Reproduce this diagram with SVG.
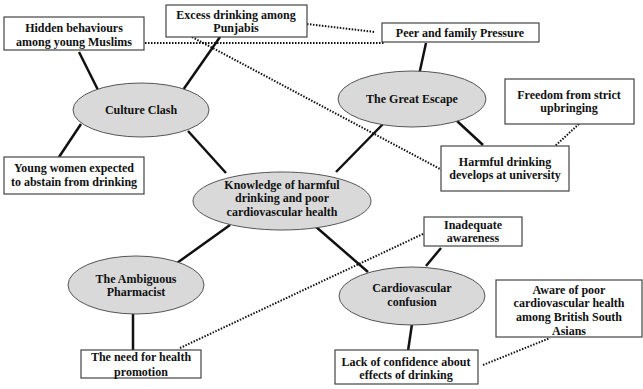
<svg xmlns="http://www.w3.org/2000/svg" width="643" height="389" viewBox="0 0 643 389">
<style>
text{font-family:"Liberation Serif","Times New Roman",serif;font-weight:bold;font-size:12px;fill:#111;text-anchor:middle;dominant-baseline:central}
.box{fill:#fff;stroke:#444;stroke-width:1.2}
.ell{fill:#d9d9d9;stroke:#555;stroke-width:1}
.solid{stroke:#111;stroke-width:2.5;fill:none}
.dot{stroke:#111;stroke-width:2;stroke-dasharray:1.5 1.5;fill:none}
</style>
<rect width="643" height="389" fill="#fff"/>
<g id="connectors">
<line class="solid" x1="79" y1="52" x2="98" y2="90"/>
<line class="solid" x1="220" y1="37" x2="183" y2="90"/>
<line class="solid" x1="81" y1="124" x2="59" y2="157"/>
<line class="solid" x1="188" y1="131" x2="226" y2="173"/>
<line class="solid" x1="426" y1="43" x2="419" y2="75"/>
<line class="solid" x1="457" y1="121" x2="483" y2="145"/>
<line class="solid" x1="383" y1="124" x2="336" y2="172"/>
<line class="solid" x1="230" y1="225" x2="177" y2="263"/>
<line class="solid" x1="133" y1="314" x2="133" y2="350"/>
<line class="solid" x1="315" y1="226" x2="368" y2="272"/>
<line class="solid" x1="441" y1="248" x2="426" y2="266"/>
<line class="solid" x1="412" y1="324" x2="408" y2="351"/>
<line class="dot" x1="307" y1="24" x2="375" y2="32"/>
<line class="dot" x1="145" y1="43" x2="385" y2="43"/>
<line class="dot" x1="192" y1="37" x2="442" y2="170"/>
<line class="dot" x1="579" y1="124" x2="555" y2="146"/>
<line class="dot" x1="180" y1="348" x2="425" y2="233"/>
<line class="dot" x1="483" y1="365" x2="550" y2="338"/>
</g>
<g id="hidden">
<rect class="box" x="4" y="17" width="140" height="33"/>
<text x="74" y="28">Hidden behaviours</text>
<text x="74" y="42">among young Muslims</text>
</g>
<g id="excess">
<rect class="box" x="166" y="5" width="141" height="32"/>
<text x="236" y="15">Excess drinking among</text>
<text x="236" y="28">Punjabis</text>
</g>
<g id="peer">
<rect class="box" x="382" y="23" width="157" height="19"/>
<text x="460" y="33">Peer and family Pressure</text>
</g>
<g id="culture">
<ellipse class="ell" cx="141" cy="110" rx="68" ry="27"/>
<text x="141" y="110">Culture Clash</text>
</g>
<g id="young">
<rect class="box" x="4" y="157" width="140" height="37"/>
<text x="74" y="168">Young women expected</text>
<text x="74" y="182">to abstain from drinking</text>
</g>
<g id="escape">
<ellipse class="ell" cx="412" cy="99" rx="74" ry="28"/>
<text x="412" y="99">The Great Escape</text>
</g>
<g id="freedom">
<rect class="box" x="505" y="79" width="129" height="45"/>
<text x="569" y="95">Freedom from strict</text>
<text x="569" y="108">upbringing</text>
</g>
<g id="harmful">
<rect class="box" x="441" y="146" width="128" height="45"/>
<text x="505" y="162">Harmful drinking</text>
<text x="505" y="175">develops at university</text>
</g>
<g id="knowledge">
<ellipse class="ell" cx="282" cy="201" rx="89" ry="29"/>
<text x="282" y="185">Knowledge of harmful</text>
<text x="282" y="198">drinking and poor</text>
<text x="282" y="212">cardiovascular health</text>
</g>
<g id="pharmacist">
<ellipse class="ell" cx="136" cy="285" rx="68" ry="29"/>
<text x="136" y="279">The Ambiguous</text>
<text x="136" y="292">Pharmacist</text>
</g>
<g id="need">
<rect class="box" x="81" y="350" width="120" height="28"/>
<text x="141" y="357">The need for health</text>
<text x="141" y="372">promotion</text>
</g>
<g id="inadequate">
<rect class="box" x="424" y="217" width="98" height="29"/>
<text x="473" y="225">Inadequate</text>
<text x="473" y="238">awareness</text>
</g>
<g id="cardio">
<ellipse class="ell" cx="412" cy="296" rx="73" ry="29"/>
<text x="412" y="288">Cardiovascular</text>
<text x="412" y="302">confusion</text>
</g>
<g id="aware">
<rect class="box" x="496" y="280" width="146" height="57"/>
<text x="569" y="290">Aware of poor</text>
<text x="569" y="303">cardiovascular health</text>
<text x="569" y="317">among British South</text>
<text x="569" y="331">Asians</text>
</g>
<g id="lack">
<rect class="box" x="335" y="350" width="143" height="34"/>
<text x="406" y="362">Lack of confidence about</text>
<text x="406" y="375">effects of drinking</text>
</g>
</svg>
